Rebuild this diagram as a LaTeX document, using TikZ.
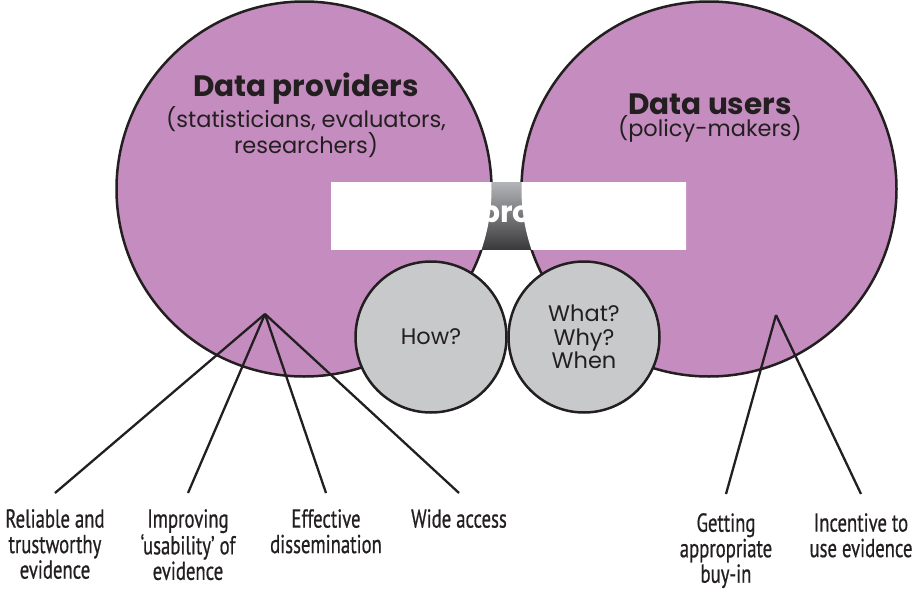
\documentclass[tikz,border=0pt]{standalone}
\usepackage{fontspec}
\setmainfont{Poppins}
\newfontfamily\condfont[FakeStretch=0.72,FakeBold=0.6]{PT Sans}
\usetikzlibrary{positioning}
\definecolor{setpurple}{HTML}{C58CBF}
\definecolor{setgrey}{HTML}{C8C9CB}
\definecolor{setink}{HTML}{231F20}
\definecolor{bridgetop}{HTML}{B4B5B8}
\definecolor{bridgemid}{HTML}{77787C}
\definecolor{bridgebot}{HTML}{3A3A3C}

\begin{document}
\begin{tikzpicture}[x=1pt,y=-1pt]
  \tikzset{
    big circle/.style={circle,draw=setink,line width=2.5pt,fill=setpurple,minimum size=375pt,inner sep=0pt},
    small circle/.style={circle,draw=setink,line width=2.5pt,fill=setgrey,minimum size=151pt,inner sep=0pt,align=center,text=setink,font=\fontsize{22.5}{23.5}\selectfont},
    heading/.style={align=center,inner sep=1pt,text=setink,font=\fontsize{29.5}{31}\selectfont\bfseries},
    subheading/.style={align=center,inner sep=1pt,text=setink,font=\fontsize{22.5}{26}\selectfont},
    leaf/.style={anchor=north,align=center,inner sep=1pt,text=setink,font=\condfont\fontsize{26}{25.5}\selectfont},
    spoke/.style={draw=setink,line width=2.3pt}
  }
  \useasboundingbox (0,0) rectangle (914,592);
  \node[big circle] (providers) at (304,189) {};
  \node[big circle] (users) at (709,189) {};
  \fill[white] (331,182) rectangle (686,249);
  \begin{scope}
    \clip (331,182) rectangle (686,249);
    \shade[top color=bridgetop,middle color=bridgemid,bottom color=bridgebot] (470,182) rectangle (545,249);
    \fill[white] (providers.center) circle (187.5pt);
    \fill[white] (users.center) circle (187.5pt);
  \end{scope}
  \node[heading,text=white] (bridge) at (506,218) {pro};
  \node[small circle] (how) at (431,337) {How?};
  \node[small circle] (what) at (584,337) {What?\\Why?\\When};

  \node[heading] (provtitle) at (306,89) {Data providers};
  \node[subheading,below=-1pt of provtitle] (provsub) {(statisticians, evaluators,\\researchers)};
  \node[heading] (usertitle) at (710,104) {Data users};
  \node[subheading,below=-1pt of usertitle] (usersub) {(policy-makers)};

  \coordinate (provhub) at (265,314);
  \coordinate (userhub) at (776,315);
  \node[leaf] (reliable) at (55,508) {Reliable and\\trustworthy\\evidence};
  \node[leaf] (usability) at (188,508) {Improving\\‘usability’ of\\evidence};
  \node[leaf] (dissem) at (326,508) {Effective\\dissemination};
  \node[leaf] (access) at (459,508) {Wide access};
  \node[leaf] (buyin) at (726,512) {Getting\\appropriate\\buy-in};
  \node[leaf] (incentive) at (861,512) {Incentive to\\use evidence};

  \draw[spoke] (provhub) -- ([yshift=15pt]reliable.north);
  \draw[spoke] (provhub) -- ([yshift=15pt]usability.north);
  \draw[spoke] (provhub) -- ([yshift=15pt]dissem.north);
  \draw[spoke] (provhub) -- ([yshift=15pt]access.north);
  \draw[spoke] (userhub) -- ([yshift=18pt]buyin.north);
  \draw[spoke] (userhub) -- ([yshift=18pt]incentive.north);
\end{tikzpicture}
\end{document}
